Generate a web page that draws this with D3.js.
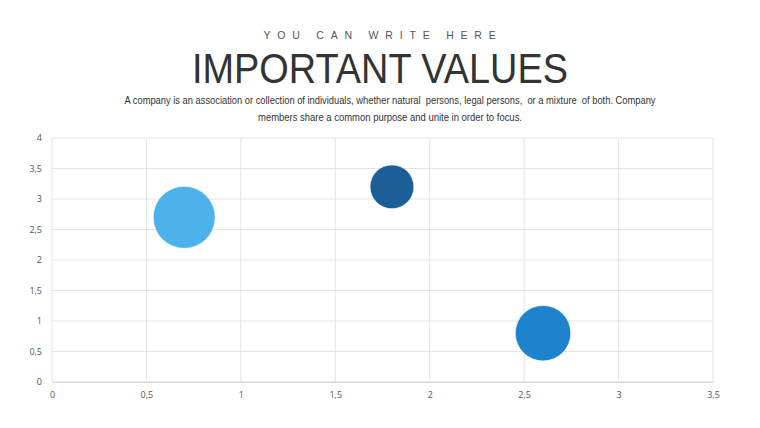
<!DOCTYPE html>
<html>
<head>
<meta charset="utf-8">
<script src="https://cdn.jsdelivr.net/npm/d3@7"></script>
<style>
    body { margin: 0; background: #fff; }
    svg { display: block; }
</style>
</head>
<body>
<div id="chart"></div>
<script>
var xValues = [0.7, 1.8, 2.6];
var yValues = [2.7, 3.2, 0.8];
var sizeValues = [10, 5, 8];
var bubbleColors = ["#4db1eb", "#1b5e98", "#1e83cd"];
var xTicks = [0, 0.5, 1, 1.5, 2, 2.5, 3, 3.5];
var yTicks = [0, 0.5, 1, 1.5, 2, 2.5, 3, 3.5, 4];

const WIDTH = 760;
const HEIGHT = 428;
var margin = {top: 138, right: 47, bottom: 46, left: 52};

var svg = d3.select("#chart").append("svg")
    .attr("width", WIDTH)
    .attr("height", HEIGHT);

// heading texts
svg.append("text")
    .attr("x", 383).attr("y", 39)
    .attr("text-anchor", "middle")
    .attr("font-family", "Liberation Sans, Arial, sans-serif")
    .attr("font-size", 10.5)
    .attr("letter-spacing", "6.8px")
    .attr("fill", "#555")
    .text("YOU CAN WRITE HERE");

svg.append("text")
    .attr("x", 380).attr("y", 83)
    .attr("text-anchor", "middle")
    .attr("font-family", "Liberation Sans, Arial, sans-serif")
    .attr("font-size", 43)
    .attr("textLength", 376)
    .attr("lengthAdjust", "spacingAndGlyphs")
    .attr("fill", "#333")
    .text("IMPORTANT VALUES");

var sub = ["A company is an association or collection of individuals, whether natural  persons, legal persons,  or a mixture  of both. Company",
           "members share a common purpose and unite in order to focus."];
var subLen = [531, 264];
svg.selectAll(".sub").data(sub).enter().append("text")
    .attr("class", "sub")
    .attr("x", 390)
    .attr("y", function(d, i) { return 104 + i * 17; })
    .attr("text-anchor", "middle")
    .attr("font-family", "Liberation Sans, Arial, sans-serif")
    .attr("font-size", 10.3)
    .attr("textLength", function(d, i) { return subLen[i]; })
    .attr("lengthAdjust", "spacingAndGlyphs")
    .attr("fill", "#333")
    .attr("xml:space", "preserve")
    .text(function(d) { return d; });

var width = WIDTH - margin.left - margin.right;
var height = HEIGHT - margin.top - margin.bottom;

var x = d3.scaleLinear().domain([0, 3.5]).range([0, width]);
var y = d3.scaleLinear().domain([0, 4]).range([height, 0]);
var r = d3.scaleSqrt().domain([0, 10]).range([0, 31]);

var fmt = function(d) { return String(d).replace(".", ","); };

var g = svg.append("g")
    .attr("transform", "translate(" + margin.left + "," + margin.top + ")");

// grid
g.append("g").selectAll("line").data(xTicks).enter().append("line")
    .attr("x1", function(d) { return x(d); })
    .attr("x2", function(d) { return x(d); })
    .attr("y1", 0).attr("y2", height)
    .attr("stroke", "#e4e1ea").attr("stroke-width", 1);
g.append("g").selectAll("line").data(yTicks).enter().append("line")
    .attr("x1", 0).attr("x2", width)
    .attr("y1", function(d) { return y(d); })
    .attr("y2", function(d) { return y(d); })
    .attr("stroke", "#e4e1ea").attr("stroke-width", 1);

var xAxis = g.append("g")
    .attr("transform", "translate(0," + height + ")")
    .call(d3.axisBottom(x).tickValues(xTicks).tickFormat(fmt).tickSize(0).tickPadding(10));
var yAxis = g.append("g")
    .call(d3.axisLeft(y).tickValues(yTicks).tickFormat(fmt).tickSize(0).tickPadding(10));

[xAxis, yAxis].forEach(function(a) {
    a.select(".domain").attr("stroke", "#d6d3dc");
    a.selectAll("text")
        .attr("font-family", "Open Sans, sans-serif")
        .attr("font-size", 9)
        .attr("fill", "#555");
});
yAxis.select(".domain").remove();

// bubbles
g.selectAll("circle.bubble").data(xValues).enter().append("circle")
    .attr("class", "bubble")
    .attr("cx", function(d) { return x(d); })
    .attr("cy", function(d, i) { return y(yValues[i]); })
    .attr("r", function(d, i) { return r(sizeValues[i]); })
    .attr("fill", function(d, i) { return bubbleColors[i]; })
    .attr("stroke", "#fff")
    .attr("stroke-opacity", 0.6)
    .attr("stroke-width", 1);
</script>
</body>
</html>
